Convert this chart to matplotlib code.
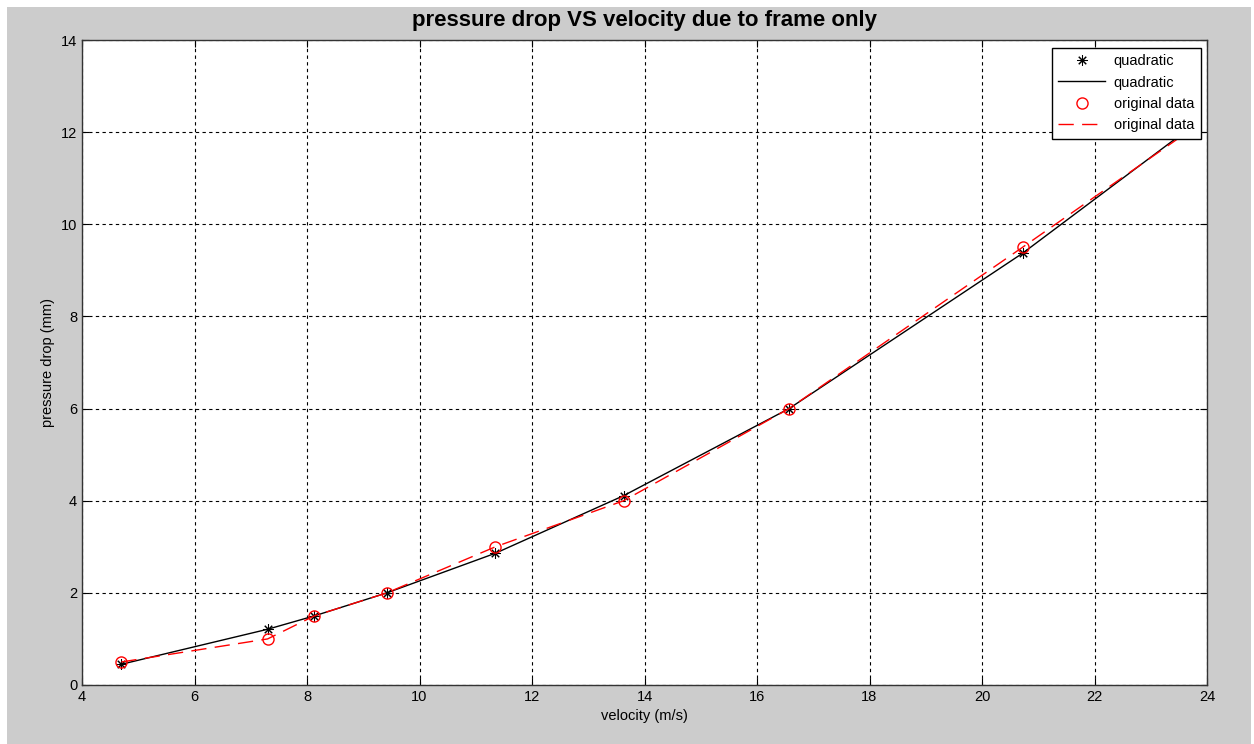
import matplotlib
matplotlib.use("Agg")
import matplotlib.pyplot as plt
from matplotlib.patches import Rectangle

plt.rcParams['font.family'] = ['Liberation Sans', 'DejaVu Sans']

# data
velocity = [4.7, 7.3, 8.13, 9.42, 11.35, 13.63, 16.57, 20.72, 23.65]
quadratic = [0.45, 1.21, 1.5, 2.0, 2.86, 4.11, 6.0, 9.37, 12.05]
original = [0.5, 1.0, 1.5, 2.0, 3.0, 4.0, 6.0, 9.5, 12.0]
xticks = [4, 6, 8, 10, 12, 14, 16, 18, 20, 22, 24]
yticks = [0, 2, 4, 6, 8, 10, 12, 14]

W, H = 1254, 744
fig = plt.figure(figsize=(W / 100, H / 100), dpi=100, facecolor='white')
fig.patches.append(Rectangle((7 / W, 0), (W - 10) / W, (H - 7) / H,
                             transform=fig.transFigure, facecolor='#cccccc',
                             edgecolor='none', zorder=-10))

ax = fig.add_axes([82 / W, (H - 685) / H, (1207 - 82) / W, (685 - 40) / H])
ax.set_facecolor('white')

ax.plot(velocity, quadratic, linestyle='none', marker=(8, 2, 0), color='black',
        markersize=7.5, markeredgewidth=0.75, label='quadratic')
ax.plot(velocity, quadratic, linestyle='-', color='black', linewidth=1.0,
        label='quadratic')
ax.plot(velocity, original, linestyle='none', marker='o', markerfacecolor='none',
        markeredgecolor='red', markersize=8, markeredgewidth=1.0,
        label='original data')
ax.plot(velocity, original, linestyle=(0, (11, 6)), color='red', linewidth=1.0,
        label='original data')

ax.set_xlim(4, 24)
ax.set_ylim(0, 14)
ax.set_xticks(xticks)
ax.set_yticks(yticks)
ax.grid(True, color='black', linestyle=(0, (3, 3)), linewidth=0.8)
ax.set_axisbelow(True)
ax.tick_params(direction='in', top=True, right=True, labelsize=10.5,
               length=5, width=0.8, colors='black')
for s in ax.spines.values():
    s.set_color('#333333')
    s.set_linewidth(1.0)

ax.set_title('pressure drop VS velocity due to frame only', fontsize=16,
             fontweight='bold', pad=10)
ax.set_xlabel('velocity (m/s)', fontsize=10.5, labelpad=4)
ax.set_ylabel('pressure drop (mm)', fontsize=10.5, labelpad=4)

leg = ax.legend(loc='upper right', bbox_to_anchor=(0.9945, 0.988), fontsize=10.5,
                frameon=True, fancybox=False, edgecolor='black', framealpha=1,
                borderpad=0.45, labelspacing=0.5, handlelength=3.2,
                handletextpad=0.6, borderaxespad=0)
leg.get_frame().set_linewidth(1.0)

fig.savefig('out.png', dpi=100, facecolor=fig.get_facecolor())
